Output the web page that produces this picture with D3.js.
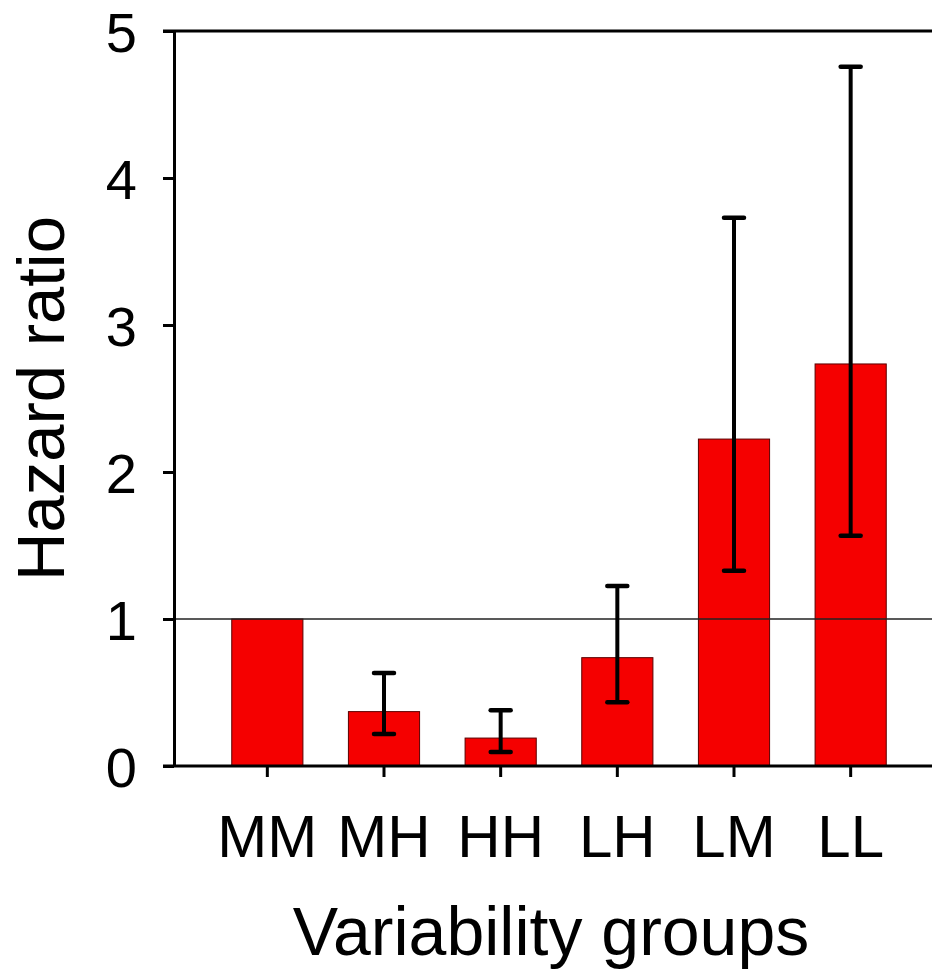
<!DOCTYPE html>
<html>
<head>
<meta charset="utf-8">
<script src="https://cdn.jsdelivr.net/npm/d3@7"></script>
<style>
  html, body { margin: 0; padding: 0; background: #fff; }
  svg { display: block; }
  text { font-family: "Liberation Sans", Arial, sans-serif; fill: #000; }
</style>
</head>
<body>
<div id="chart"></div>
<script>
// data
const groups = ['MM', 'MH', 'HH', 'LH', 'LM', 'LL'];
const hazard = [1, 0.37, 0.19, 0.737, 2.224, 2.735];
const ciLow = [null, 0.218, 0.095, 0.433, 1.329, 1.567];
const ciHigh = [null, 0.633, 0.379, 1.224, 3.73, 4.757];
const yTicks = [0, 1, 2, 3, 4, 5];

const width = 932;
const height = 971;
const plotLeft = 174, plotTop = 31, plotBottom = 766;
const axisWidth = 3;

const svg = d3.select('#chart').append('svg')
  .attr('width', width)
  .attr('height', height);

const x = d3.scaleBand()
  .domain(groups)
  .range([209, 909])
  .paddingInner(0.39)
  .paddingOuter(0.195);

const y = d3.scaleLinear()
  .domain([0, 5])
  .range([plotBottom, plotTop]);

const rows = groups.map((g, i) => ({g, v: hazard[i], lo: ciLow[i], hi: ciHigh[i]}));

// bars
svg.append('g').selectAll('rect')
  .data(rows)
  .enter().append('rect')
  .attr('x', d => x(d.g))
  .attr('width', x.bandwidth())
  .attr('y', d => y(d.v))
  .attr('height', d => y(0) - y(d.v))
  .attr('fill', '#f50000')
  .attr('stroke', '#5a0000')
  .attr('stroke-width', 1);

// reference line at HR = 1
svg.append('line')
  .attr('x1', plotLeft).attr('x2', width)
  .attr('y1', y(1)).attr('y2', y(1))
  .attr('stroke', '#222')
  .attr('stroke-width', 1.4);

// error bars
const err = svg.append('g')
  .attr('stroke', '#000')
  .attr('stroke-width', 4)
  .attr('stroke-linecap', 'round');
const withCi = rows.filter(d => d.lo != null);
const cx = d => x(d.g) + x.bandwidth() / 2;
err.selectAll('.stem')
  .data(withCi)
  .enter().append('line')
  .attr('class', 'stem')
  .attr('stroke-linecap', 'butt')
  .attr('x1', cx).attr('x2', cx)
  .attr('y1', d => y(d.lo)).attr('y2', d => y(d.hi));
['lo', 'hi'].forEach(k => {
  err.selectAll('.cap-' + k)
    .data(withCi)
    .enter().append('line')
    .attr('class', 'cap-' + k)
    .attr('stroke-width', 4.5)
    .attr('x1', d => cx(d) - 10).attr('x2', d => cx(d) + 10)
    .attr('y1', d => y(d[k])).attr('y2', d => y(d[k]));
});

// y axis
const yAxis = svg.append('g')
  .attr('transform', `translate(${plotLeft},0)`)
  .call(d3.axisLeft(y).tickValues(yTicks).tickFormat(d3.format('d'))
    .tickSize(11).tickSizeOuter(0).tickPadding(0));
yAxis.select('.domain').attr('stroke-width', axisWidth);
yAxis.selectAll('.tick line').attr('stroke-width', axisWidth);
yAxis.selectAll('.tick text')
  .attr('x', -37)
  .attr('dy', '0.36em')
  .style('font-size', '56px');

// x axis
const xAxis = svg.append('g')
  .attr('transform', `translate(0,${plotBottom})`)
  .call(d3.axisBottom(x).tickSize(11).tickSizeOuter(0).tickPadding(0));
xAxis.select('.domain').remove();
xAxis.selectAll('.tick line').attr('stroke-width', axisWidth);
xAxis.selectAll('.tick text')
  .attr('y', 91)
  .attr('dy', 0)
  .style('font-size', '60px');

// frame lines: bottom axis and top border
svg.append('line')
  .attr('x1', plotLeft - 11).attr('x2', width)
  .attr('y1', plotBottom).attr('y2', plotBottom)
  .attr('stroke', '#000').attr('stroke-width', axisWidth);
svg.append('line')
  .attr('x1', plotLeft - 11).attr('x2', width)
  .attr('y1', plotTop).attr('y2', plotTop)
  .attr('stroke', '#000').attr('stroke-width', axisWidth);

// axis titles
svg.append('text')
  .attr('x', 551)
  .attr('y', 955)
  .attr('text-anchor', 'middle')
  .style('font-size', '68px')
  .text('Variability groups');

svg.append('text')
  .attr('transform', `translate(64,${(plotTop + plotBottom) / 2}) rotate(-90)`)
  .attr('text-anchor', 'middle')
  .style('font-size', '67px')
  .text('Hazard ratio');
</script>
</body>
</html>
